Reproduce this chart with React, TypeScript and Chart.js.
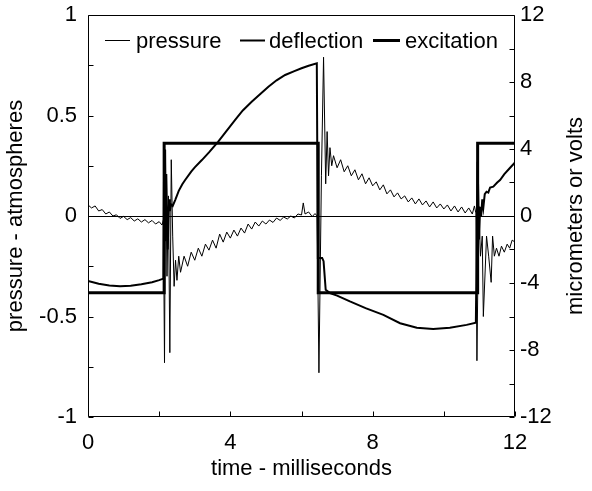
import React, { useEffect, useRef } from 'react';
import { Chart, registerables } from 'chart.js';

Chart.register(...registerables);

const FONT = '"Liberation Sans", Arial, Helvetica, sans-serif';

// ---- data ----
const seriesLabels = ['pressure', 'deflection', 'excitation'];

const pressureTime = [
  0.0, 0.1, 0.2, 0.3, 0.4, 0.5, 0.6, 0.7, 0.8, 0.9,
  1.0, 1.1, 1.2, 1.3, 1.4, 1.5, 1.6, 1.7, 1.8, 1.9,
  2.0, 2.08, 2.12, 2.15, 2.18, 2.22, 2.26, 2.3, 2.34, 2.38,
  2.42, 2.46, 2.5, 2.55, 2.6, 2.7, 2.8, 2.9, 3.0, 3.1,
  3.2, 3.3, 3.4, 3.5, 3.6, 3.7, 3.8, 3.9, 4.0, 4.1,
  4.2, 4.3, 4.4, 4.5, 4.6, 4.7, 4.8, 4.9, 5.0, 5.1,
  5.2, 5.3, 5.4, 5.5, 5.6, 5.7, 5.8, 5.9, 6.0, 6.05,
  6.1, 6.2, 6.3, 6.38, 6.44, 6.49, 6.56, 6.62, 6.68, 6.72,
  6.76, 6.8, 6.85, 6.9, 7.0, 7.1, 7.2, 7.3, 7.4, 7.5,
  7.6, 7.7, 7.8, 7.9, 8.0, 8.1, 8.2, 8.3, 8.4, 8.5,
  8.6, 8.7, 8.8, 8.9, 9.0, 9.1, 9.2, 9.3, 9.4, 9.5,
  9.6, 9.7, 9.8, 9.9, 10.0, 10.1, 10.2, 10.3, 10.4, 10.5,
  10.6, 10.7, 10.8, 10.86, 10.9, 10.93, 10.98, 11.03, 11.08, 11.11,
  11.2, 11.26, 11.33, 11.37, 11.42, 11.48, 11.55, 11.62, 11.7, 11.78,
  11.85, 11.92, 12.0,
];
const pressureAtm = [
  0.055, 0.04, 0.05, 0.025, 0.032, 0.01, 0.02, 0.0, 0.006, -0.012,
  -0.002, -0.018, -0.008, -0.025, -0.014, -0.03, -0.018, -0.034, -0.022, -0.04,
  -0.028, -0.045, -0.02, -0.73, 0.33, -0.3, 0.1, -0.68, 0.28, -0.1,
  -0.35, -0.22, -0.32, -0.2, -0.28, -0.2, -0.25, -0.18, -0.22, -0.16,
  -0.2, -0.14, -0.17, -0.12, -0.16, -0.09, -0.13, -0.08, -0.11, -0.07,
  -0.1, -0.06, -0.085, -0.04, -0.065, -0.03, -0.05, -0.025, -0.04, -0.02,
  -0.032, -0.01, -0.022, -0.005, -0.015, 0.0, -0.01, 0.01, 0.005, 0.065,
  0.01, 0.02, -0.003, 0.012, 0.0, -0.78, 0.2, 0.79, 0.16, 0.42,
  0.2, 0.34, 0.25, 0.3, 0.24, 0.28, 0.22, 0.25, 0.2, 0.23,
  0.18, 0.21, 0.16, 0.19, 0.15, 0.17, 0.13, 0.155, 0.11, 0.13,
  0.095, 0.115, 0.085, 0.1, 0.07, 0.09, 0.06, 0.085, 0.055, 0.075,
  0.045, 0.07, 0.04, 0.06, 0.035, 0.055, 0.025, 0.05, 0.02, 0.045,
  0.015, 0.04, 0.01, 0.05, 0.015, -0.72, 0.05, -0.2, -0.1, -0.5,
  -0.1, -0.2, -0.33, -0.1, -0.2, -0.16, -0.2, -0.15, -0.18, -0.14,
  -0.16, -0.12, -0.13,
];

const deflectionTime = [
  0.0, 0.3, 0.6, 0.9, 1.2, 1.5, 1.8, 2.0, 2.12, 2.14,
  2.17, 2.2, 2.24, 2.28, 2.3, 2.33, 2.38, 2.45, 2.55, 2.65,
  2.73, 2.9, 3.0, 3.2, 3.4, 3.66, 3.9, 4.13, 4.35, 4.6,
  4.85, 5.07, 5.3, 5.54, 5.8, 6.0, 6.2, 6.43, 6.46, 6.58,
  6.62, 6.68, 6.8, 7.0, 7.36, 7.8, 8.3, 8.77, 9.24, 9.7,
  10.17, 10.64, 10.9, 10.95, 10.99, 11.02, 11.05, 11.08, 11.11, 11.15,
  11.2, 11.25, 11.3, 11.39, 11.5, 11.58, 11.7, 11.85, 12.0,
];
const deflectionUm = [
  -3.88, -4.05, -4.15, -4.19, -4.17, -4.08, -3.95, -3.83, -3.74, 3.9,
  -1.5, 2.5, -2.0, 1.0, 0.3, 0.7, 0.6, 0.95, 1.5, 1.9,
  2.15, 2.65, 2.9, 3.34, 3.8, 4.44, 5.1, 5.73, 6.3, 6.82,
  7.3, 7.72, 8.1, 8.42, 8.65, 8.82, 8.97, 9.12, -2.5, -2.5,
  -2.7, -4.4, -4.6, -4.75, -5.1, -5.5, -5.9, -6.4, -6.67, -6.75,
  -6.67, -6.5, -6.37, 3.24, -1.4, 0.55, 0.0, 1.0, 0.5, 1.3,
  1.45, 1.4, 1.7, 1.75, 2.0, 2.15, 2.5, 2.85, 3.2,
];

const excitationTime = [0, 2.14, 2.14, 6.47, 6.47, 10.95, 10.95, 12];
const excitationVolt = [-4.58, -4.58, 4.34, 4.34, -4.58, -4.58, 4.34, 4.34];

const xTitle = 'time - milliseconds';
const leftTitle = 'pressure - atmospheres';
const rightTitle = 'micrometers or volts';

const toPoints = (xs: number[], ys: number[]) => xs.map((x, i) => ({ x, y: ys[i] }));

const zeroLinePlugin = {
  id: 'zeroLine',
  beforeDatasetsDraw(chart: any) {
    const { ctx, chartArea } = chart;
    const y = Math.round(chart.scales.yLeft.getPixelForValue(0)) + 0.5;
    ctx.save();
    ctx.strokeStyle = '#000';
    ctx.lineWidth = 1;
    ctx.beginPath();
    ctx.moveTo(chartArea.left, y);
    ctx.lineTo(chartArea.right, y);
    ctx.stroke();
    ctx.restore();
  },
};

const framePlugin = {
  id: 'frameTicks',
  afterDatasetsDraw(chart: any) {
    const { ctx, chartArea } = chart;
    const L = Math.round(chartArea.left) + 0.5;
    const R = Math.round(chartArea.right) - 0.5;
    const T = Math.round(chartArea.top) + 0.5;
    const B = Math.round(chartArea.bottom) - 0.5;
    const len = 5;
    ctx.save();
    ctx.strokeStyle = '#000';
    ctx.lineWidth = 1;
    ctx.beginPath();
    ctx.rect(L, T, R - L, B - T);
    const yl = chart.scales.yLeft;
    yl.ticks.forEach((t: any) => {
      const y = Math.round(yl.getPixelForValue(t.value)) + 0.5;
      ctx.moveTo(L, y);
      ctx.lineTo(L + len, y);
    });
    const yr = chart.scales.yRight;
    yr.ticks.forEach((t: any) => {
      const y = Math.round(yr.getPixelForValue(t.value)) + 0.5;
      ctx.moveTo(R, y);
      ctx.lineTo(R - len, y);
    });
    const xs = chart.scales.x;
    xs.ticks.forEach((t: any) => {
      const x = Math.round(xs.getPixelForValue(t.value)) + 0.5;
      ctx.moveTo(x, B);
      ctx.lineTo(x, B - len);
    });
    ctx.stroke();
    ctx.restore();
  },
};

const legendPlugin = {
  id: 'innerLegend',
  afterDraw(chart: any) {
    const { ctx } = chart;
    const lineStarts = [105, 240, 373];
    const lineEnds = [130, 265, 400];
    const textStarts = [136, 269, 405];
    ctx.save();
    ctx.font = `22px ${FONT}`;
    ctx.fillStyle = '#000';
    ctx.textBaseline = 'alphabetic';
    ctx.textAlign = 'left';
    chart.data.datasets.forEach((ds: any, i: number) => {
      ctx.strokeStyle = ds.borderColor;
      ctx.lineWidth = ds.borderWidth;
      ctx.beginPath();
      ctx.moveTo(lineStarts[i], 40.5);
      ctx.lineTo(lineEnds[i], 40.5);
      ctx.stroke();
      ctx.fillText(ds.label, textStarts[i], 48);
    });
    ctx.restore();
  },
};

const rightTitlePlugin = {
  id: 'rightTitle',
  afterDraw(chart: any) {
    const { ctx, chartArea } = chart;
    ctx.save();
    ctx.font = `22px ${FONT}`;
    ctx.fillStyle = '#000';
    ctx.textAlign = 'center';
    ctx.textBaseline = 'middle';
    ctx.translate(576, (chartArea.top + chartArea.bottom) / 2);
    ctx.rotate(-Math.PI / 2);
    ctx.fillText(rightTitle, 0, 0);
    ctx.restore();
  },
};

const near = (v: number, step: number) => Math.abs(v / step - Math.round(v / step)) < 1e-6;

export default function App() {
  const ref = useRef<HTMLCanvasElement>(null);

  useEffect(() => {
    const font = { family: FONT, size: 22 };
    const clearPad = (s: any) => {
      s.paddingTop = 0;
      s.paddingBottom = 0;
      s.paddingLeft = 0;
      s.paddingRight = 0;
    };
    const chart = new Chart(ref.current as HTMLCanvasElement, {
      type: 'line',
      data: {
        datasets: [
          {
            label: seriesLabels[0],
            data: toPoints(pressureTime, pressureAtm),
            yAxisID: 'yLeft',
            borderColor: '#000',
            borderWidth: 1,
            pointRadius: 0,
            tension: 0,
          },
          {
            label: seriesLabels[1],
            data: toPoints(deflectionTime, deflectionUm),
            yAxisID: 'yRight',
            borderColor: '#000',
            borderWidth: 2,
            pointRadius: 0,
            tension: 0,
          },
          {
            label: seriesLabels[2],
            data: toPoints(excitationTime, excitationVolt),
            yAxisID: 'yRight',
            borderColor: '#000',
            borderWidth: 3,
            pointRadius: 0,
            tension: 0,
          },
        ],
      },
      options: {
        animation: false,
        responsive: true,
        maintainAspectRatio: false,
        layout: { padding: { top: 15, left: 0, right: 0, bottom: 0 } },
        plugins: { legend: { display: false }, tooltip: { enabled: false } },
        scales: {
          x: {
            type: 'linear',
            min: 0,
            max: 12,
            grid: { display: false, drawTicks: false },
            border: { display: false },
            ticks: {
              stepSize: 2,
              autoSkip: false,
              maxRotation: 0,
              padding: 13,
              color: '#000',
              font,
              callback: (v: any) => (near(Number(v), 4) ? String(v) : ''),
            },
            title: { display: true, text: xTitle, color: '#000', font, padding: { top: 0, bottom: 9 } },
            afterFit: (s: any) => { s.height = 74; clearPad(s); },
          },
          yLeft: {
            type: 'linear',
            position: 'left',
            min: -1,
            max: 1,
            grid: { display: false, drawTicks: false },
            border: { display: false },
            ticks: {
              stepSize: 0.25,
              autoSkip: false,
              padding: 11,
              color: '#000',
              font,
              callback: (v: any) => (near(Number(v), 0.5) ? String(v) : ''),
            },
            title: { display: true, text: leftTitle, color: '#000', font, padding: { top: 3, bottom: 0 } },
            afterFit: (s: any) => { s.width = 88; clearPad(s); },
          },
          yRight: {
            type: 'linear',
            position: 'right',
            min: -12,
            max: 12,
            grid: { display: false, drawTicks: false },
            border: { display: false },
            ticks: {
              stepSize: 2,
              autoSkip: false,
              padding: 5,
              color: '#000',
              font,
              callback: (v: any) => (near(Number(v), 4) ? String(v) : ''),
            },
            afterFit: (s: any) => { s.width = 77; clearPad(s); },
          },
        },
      },
      plugins: [zeroLinePlugin, framePlugin, legendPlugin, rightTitlePlugin],
    } as any);
    return () => chart.destroy();
  }, []);

  return (
    <div style={{ position: 'absolute', left: 0, top: 0, width: 592, height: 491, background: '#fff' }}>
      <canvas ref={ref} />
    </div>
  );
}
